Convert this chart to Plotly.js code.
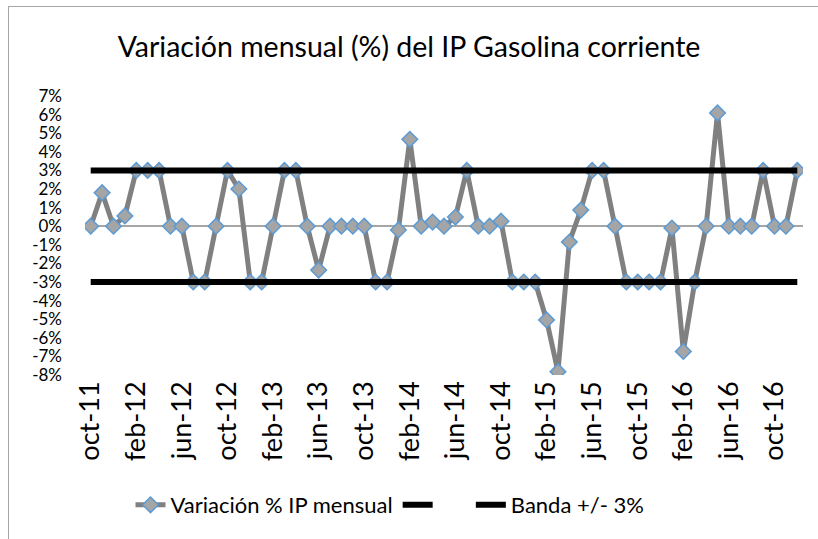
<!DOCTYPE html>
<html>
<head>
<meta charset="utf-8">
<script src="https://cdn.plot.ly/plotly-3.0.1.min.js"></script>
<style>
  html, body { margin: 0; padding: 0; background: #fff; }
  #wrap { position: relative; width: 818px; height: 539px; overflow: hidden; }
  #chart { position: absolute; left: 0; top: 0; width: 818px; height: 539px; }
  #frame { position: absolute; left: 8px; top: 6px; width: 830px; height: 560px;
           border-left: 1px solid #a6a6a6; border-top: 1px solid #a6a6a6; pointer-events: none; }
</style>
</head>
<body>
<div id="wrap">
  <div id="chart"></div>
  <div id="frame"></div>
</div>
<script>
// Months (categories)
const months = [
  'oct-11','nov-11','dic-11',
  'ene-12','feb-12','mar-12','abr-12','may-12','jun-12','jul-12','ago-12','sep-12','oct-12','nov-12','dic-12',
  'ene-13','feb-13','mar-13','abr-13','may-13','jun-13','jul-13','ago-13','sep-13','oct-13','nov-13','dic-13',
  'ene-14','feb-14','mar-14','abr-14','may-14','jun-14','jul-14','ago-14','sep-14','oct-14','nov-14','dic-14',
  'ene-15','feb-15','mar-15','abr-15','may-15','jun-15','jul-15','ago-15','sep-15','oct-15','nov-15','dic-15',
  'ene-16','feb-16','mar-16','abr-16','may-16','jun-16','jul-16','ago-16','sep-16','oct-16','nov-16','dic-16'
];

// Monthly variation (%) of the gasoline price index
const variacion = [
  0, 1.8, 0,
  0.55, 3, 3, 3, 0, 0, -3, -3, 0, 3, 2.0, -3,
  -3, 0, 3, 3, 0, -2.36, 0, 0, 0, 0, -3, -3,
  -0.2, 4.67, 0, 0.22, 0, 0.49, 3, 0, 0, 0.27, -3, -3,
  -3, -5.04, -7.82, -0.85, 0.87, 3, 3, 0, -3, -3, -3, -3,
  -0.1, -6.73, -3, 0, 6.09, 0, 0, 0, 3, 0, 0, 3
];

// Band +/- 3%
const bandaSup = [
  3, 3, 3,
  3, 3, 3, 3, 3, 3, 3, 3, 3, 3, 3, 3,
  3, 3, 3, 3, 3, 3, 3, 3, 3, 3, 3, 3,
  3, 3, 3, 3, 3, 3, 3, 3, 3, 3, 3, 3,
  3, 3, 3, 3, 3, 3, 3, 3, 3, 3, 3, 3,
  3, 3, 3, 3, 3, 3, 3, 3, 3, 3, 3, 3
];
const bandaInf = [
  -3, -3, -3,
  -3, -3, -3, -3, -3, -3, -3, -3, -3, -3, -3, -3,
  -3, -3, -3, -3, -3, -3, -3, -3, -3, -3, -3, -3,
  -3, -3, -3, -3, -3, -3, -3, -3, -3, -3, -3, -3,
  -3, -3, -3, -3, -3, -3, -3, -3, -3, -3, -3, -3,
  -3, -3, -3, -3, -3, -3, -3, -3, -3, -3, -3, -3
];

// Tick labels (every 4 months)
const tickLabels = ['oct-11','feb-12','jun-12','oct-12','feb-13','jun-13','oct-13','feb-14',
                    'jun-14','oct-14','feb-15','jun-15','oct-15','feb-16','jun-16','oct-16'];
const yTicks = [7,6,5,4,3,2,1,0,-1,-2,-3,-4,-5,-6,-7,-8];
const yTickText = ['7%','6%','5%','4%','3%','2%','1%','0%','-1%','-2%','-3%','-4%','-5%','-6%','-7%','-8%'];

const FONT = 'Lato, "Open Sans", sans-serif';

const traces = [
  {
    x: months, y: variacion, type: 'scatter', mode: 'lines+markers',
    name: 'Variación % IP mensual',
    line: { color: '#808080', width: 5 },
    marker: { symbol: 'diamond', size: 12, color: '#a5a5a5', line: { color: '#5b9bd5', width: 1.5 } }
  },
  {
    x: months, y: bandaSup, type: 'scatter', mode: 'lines',
    name: '\u00a0\u00a0\u00a0\u00a0\u00a0',
    line: { color: '#000000', width: 6 }
  },
  {
    x: months, y: bandaInf, type: 'scatter', mode: 'lines',
    name: 'Banda +/- 3%',
    line: { color: '#000000', width: 6 }
  }
];

const layout = {
  width: 818, height: 539,
  margin: { l: 85, r: 15, t: 96, b: 164 },
  paper_bgcolor: 'rgba(0,0,0,0)', plot_bgcolor: 'rgba(0,0,0,0)',
  font: { family: FONT, color: '#000' },
  title: {
    text: 'Variación mensual (%) del IP Gasolina corriente',
    font: { family: FONT, size: 28.5, color: '#000' },
    x: 409 / 818, xref: 'container', xanchor: 'center',
    y: 1 - 47 / 539, yref: 'container', yanchor: 'middle'
  },
  xaxis: {
    type: 'category',
    range: [-0.5, months.length - 0.5],
    tickmode: 'array', tickvals: tickLabels, ticktext: tickLabels,
    tickangle: -90,
    tickfont: { family: FONT, size: 27, color: '#000' },
    showgrid: false, showline: false, zeroline: false,
    ticks: '', ticklen: 0
  },
  yaxis: {
    range: [-8, 7],
    tickmode: 'array', tickvals: yTicks, ticktext: yTickText,
    tickfont: { family: FONT, size: 17, color: '#000' },
    ticklabelstandoff: 22,
    showgrid: false, showline: false,
    zeroline: true, zerolinecolor: '#a6a6a6', zerolinewidth: 1.5,
    ticks: '', ticklen: 0
  },
  showlegend: true,
  legend: {
    orientation: 'h',
    xref: 'container', x: 390 / 818, xanchor: 'center',
    yref: 'container', y: 1 - 505 / 539, yanchor: 'middle',
    font: { family: FONT, size: 22, color: '#000' },
    bgcolor: 'rgba(0,0,0,0)'
  },
  annotations: [
    { text: '(%)', xref: 'paper', yref: 'paper', x: (528 - 85) / 718, y: (375 + 2) / 279,
      xanchor: 'center', yanchor: 'bottom', showarrow: false,
      font: { family: FONT, size: 26, color: '#000' } }
  ]
};

Plotly.newPlot('chart', traces, layout, { displayModeBar: false, staticPlot: true });
</script>
</body>
</html>
